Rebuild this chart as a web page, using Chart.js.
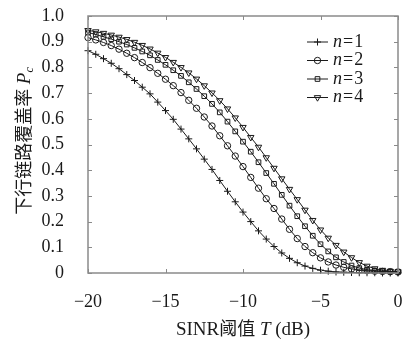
<!DOCTYPE html>
<html>
<head>
<meta charset="utf-8">
<script src="https://cdn.jsdelivr.net/npm/chart.js@4.4.1/dist/chart.umd.min.js"></script>
<style>
  html, body { margin: 0; padding: 0; background: #fff; }
</style>
</head>
<body>
<canvas id="coverageChart" width="405" height="340"></canvas>
<script>
// SINR threshold T (dB), one marker every 0.5 dB
const thresholds = [-20, -19.5, -19, -18.5, -18, -17.5, -17, -16.5, -16, -15.5,
                    -15, -14.5, -14, -13.5, -13, -12.5, -12, -11.5, -11, -10.5,
                    -10, -9.5, -9, -8.5, -8, -7.5, -7, -6.5, -6, -5.5,
                    -5, -4.5, -4, -3.5, -3, -2.5, -2, -1.5, -1, -0.5, 0];

// downlink coverage probability
const pcN1 = [0.865, 0.851, 0.834, 0.816, 0.795, 0.772, 0.749, 0.723, 0.697, 0.665,
              0.632, 0.598, 0.560, 0.522, 0.483, 0.443, 0.403, 0.360, 0.318, 0.277,
              0.237, 0.200, 0.164, 0.132, 0.103, 0.078, 0.057, 0.040, 0.027, 0.018,
              0.011, 0.007, 0.004, 0.003, 0.002, 0.001, 0.001, 0.001, 0.000, 0.000, 0.000];
const pcN2 = [0.916, 0.907, 0.897, 0.885, 0.871, 0.855, 0.838, 0.819, 0.799, 0.777,
              0.754, 0.729, 0.702, 0.672, 0.641, 0.607, 0.572, 0.534, 0.495, 0.455,
              0.414, 0.372, 0.330, 0.289, 0.251, 0.210, 0.170, 0.134, 0.103, 0.079,
              0.059, 0.043, 0.031, 0.022, 0.016, 0.012, 0.009, 0.007, 0.006, 0.005, 0.004];
const pcN3 = [0.936, 0.928, 0.919, 0.910, 0.900, 0.889, 0.876, 0.862, 0.847, 0.829,
              0.810, 0.789, 0.767, 0.742, 0.716, 0.688, 0.658, 0.625, 0.589, 0.551,
              0.511, 0.472, 0.431, 0.389, 0.347, 0.304, 0.262, 0.221, 0.182, 0.145,
              0.112, 0.084, 0.061, 0.043, 0.029, 0.019, 0.013, 0.009, 0.007, 0.006, 0.005];
const pcN4 = [0.944, 0.939, 0.933, 0.926, 0.918, 0.909, 0.898, 0.886, 0.872, 0.856,
              0.839, 0.820, 0.800, 0.779, 0.755, 0.729, 0.701, 0.671, 0.639, 0.604,
              0.567, 0.528, 0.490, 0.449, 0.408, 0.367, 0.326, 0.286, 0.245, 0.205,
              0.168, 0.136, 0.108, 0.082, 0.060, 0.041, 0.027, 0.017, 0.011, 0.007, 0.005];

const seriesLabels = ['1', '2', '3', '4'];
const xTicks = [-20, -15, -10, -5, 0];
const yTicks = [0, 0.1, 0.2, 0.3, 0.4, 0.5, 0.6, 0.7, 0.8, 0.9, 1.0];

const markers = [
    { style: 'cross', rotation: 0, radius: 3.5 },
    { style: 'circle', rotation: 0, radius: 3.2 },
    { style: 'rect', rotation: 0, radius: 3.3 },
    { style: 'triangle', rotation: 180, radius: 3.7 }
];

const serif = '"Liberation Serif", "DejaVu Serif", serif';
const cjk = '"Noto Sans CJK SC", sans-serif';
const ink = '#1a1a1a';
const frameColor = '#8a8a8a';
const clear = 'rgba(0,0,0,0)';

function makeDataset(values, i) {
    return {
        label: 'n=' + seriesLabels[i],
        data: thresholds.map((t, k) => ({ x: t, y: values[k] })),
        borderColor: ink,
        borderWidth: 1,
        backgroundColor: clear,
        pointStyle: markers[i].style,
        pointRotation: markers[i].rotation,
        pointRadius: markers[i].radius,
        pointBorderWidth: 1,
        pointBorderColor: ink,
        pointBackgroundColor: clear,
        tension: 0,
        clip: 8
    };
}

// draw several text runs in a row, each with its own font
function drawRuns(ctx, runs, cx, baseline) {
    let total = 0;
    runs.forEach(r => { ctx.font = r.font; r.w = ctx.measureText(r.text).width; total += r.w; });
    let x = cx - total / 2;
    runs.forEach(r => {
        ctx.font = r.font;
        ctx.fillText(r.text, x, baseline + (r.dy || 0));
        x += r.w;
    });
}

const framePlugin = {
    id: 'frame',
    afterDraw(chart) {
        const { ctx, chartArea: a, scales } = chart;
        ctx.save();
        ctx.strokeStyle = frameColor;
        ctx.lineWidth = 1.5;
        ctx.strokeRect(a.left, a.top, a.right - a.left, a.bottom - a.top);
        ctx.lineWidth = 1;
        ctx.beginPath();
        yTicks.forEach(v => {
            const y = Math.round(scales.y.getPixelForValue(v)) + 0.5;
            ctx.moveTo(a.left, y); ctx.lineTo(a.left + 4, y);
            ctx.moveTo(a.right, y); ctx.lineTo(a.right - 4, y);
        });
        xTicks.forEach(v => {
            const x = Math.round(scales.x.getPixelForValue(v)) + 0.5;
            ctx.moveTo(x, a.bottom); ctx.lineTo(x, a.bottom - 4);
            ctx.moveTo(x, a.top); ctx.lineTo(x, a.top + 4);
        });
        ctx.stroke();

        // legend, inside the top right corner
        ctx.textAlign = 'left';
        ctx.textBaseline = 'middle';
        const legendY = [42, 60.5, 79, 97.5];
        chart.data.datasets.forEach((ds, i) => {
            const y = legendY[i];
            ctx.strokeStyle = ink;
            ctx.fillStyle = clear;
            ctx.lineWidth = 1;
            ctx.beginPath();
            ctx.moveTo(307, y); ctx.lineTo(328, y);
            ctx.stroke();
            Chart.helpers.drawPoint(ctx, {
                pointStyle: markers[i].style,
                rotation: markers[i].rotation,
                radius: markers[i].radius,
                borderWidth: 1
            }, 317.5, y);
            ctx.fillStyle = ink;
            let x = 333;
            ctx.font = 'italic 18px ' + serif;
            ctx.fillText('n', x, y);
            x += ctx.measureText('n').width + 1;
            ctx.font = '18px ' + serif;
            ctx.fillText('=', x, y);
            x += ctx.measureText('=').width + 1;
            ctx.fillText(seriesLabels[i], x, y);
        });

        // axis titles
        ctx.fillStyle = ink;
        ctx.textBaseline = 'alphabetic';
        drawRuns(ctx, [
            { text: 'SINR', font: '19px ' + serif },
            { text: '阈值', font: '18px ' + cjk },
            { text: ' ', font: '19px ' + serif },
            { text: 'T', font: 'italic 19px ' + serif },
            { text: ' (dB)', font: '19px ' + serif }
        ], 243, 335);

        ctx.translate(31, 141);
        ctx.rotate(-Math.PI / 2);
        drawRuns(ctx, [
            { text: '下行链路覆盖率', font: '18px ' + cjk },
            { text: ' ', font: '18px ' + serif },
            { text: 'P', font: 'italic 19px ' + serif },
            { text: 'c', font: 'italic 12px ' + serif, dy: 3 }
        ], 0, -1);
        ctx.restore();
    }
};

const ctx = document.getElementById('coverageChart').getContext('2d');
new Chart(ctx, {
    type: 'line',
    data: {
        datasets: [pcN1, pcN2, pcN3, pcN4].map(makeDataset)
    },
    options: {
        responsive: false,
        animation: false,
        layout: { padding: { top: 16, right: 7, left: 0, bottom: 0 } },
        plugins: {
            legend: { display: false },
            tooltip: { enabled: false },
            title: { display: false }
        },
        scales: {
            x: {
                type: 'linear',
                min: -20,
                max: 0,
                afterBuildTicks(s) { s.ticks = xTicks.map(v => ({ value: v })); },
                afterFit(s) { s.height = 67; s.paddingLeft = 0; s.paddingRight = 0; },
                grid: { display: false },
                border: { display: false },
                ticks: {
                    color: ink,
                    padding: 10,
                    maxRotation: 0,
                    font: { family: serif, size: 18 },
                    callback: v => v < 0 ? '\u2212' + Math.abs(v) : '0'
                }
            },
            y: {
                min: 0,
                max: 1,
                afterBuildTicks(s) { s.ticks = yTicks.map(v => ({ value: v })); },
                afterFit(s) { s.width = 88; s.paddingTop = 0; s.paddingBottom = 0; },
                grid: { display: false },
                border: { display: false },
                ticks: {
                    color: ink,
                    padding: 16,
                    font: { family: serif, size: 18 },
                    callback: v => v === 0 ? '0' : v.toFixed(1)
                }
            }
        }
    },
    plugins: [framePlugin]
});
</script>
</body>
</html>
